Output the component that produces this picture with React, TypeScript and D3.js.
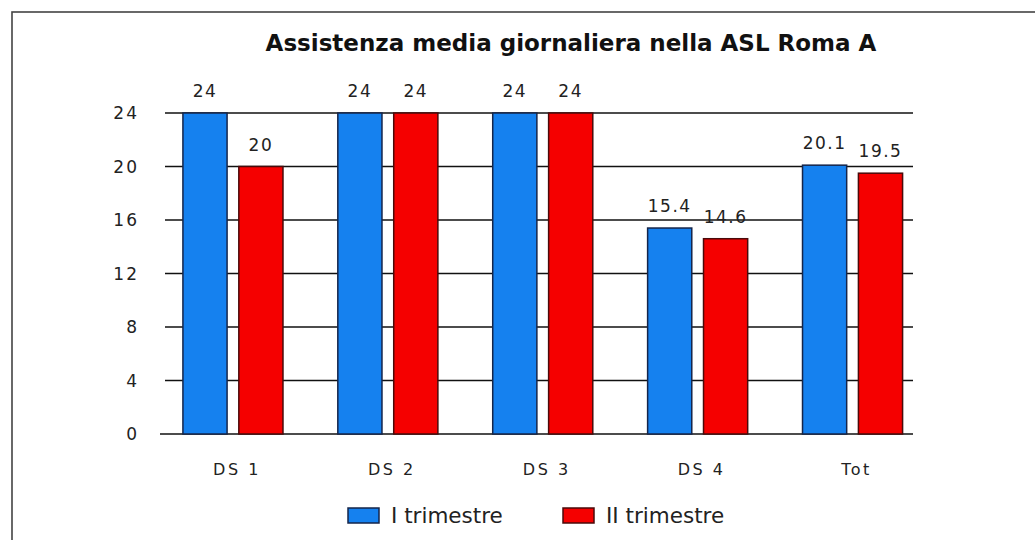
import React from "react";
import * as d3 from "d3";

const categories = ["DS 1", "DS 2", "DS 3", "DS 4", "Tot"];
const seriesNames = ["I trimestre", "II trimestre"];
const trim1 = [24, 24, 24, 15.4, 20.1];
const trim2 = [20, 24, 24, 14.6, 19.5];
const yTicks = [0, 4, 8, 12, 16, 20, 24];
const title = "Assistenza media giornaliera nella ASL Roma A";

const colors = ["#1581ef", "#f50000"];
const strokes = ["#15254a", "#4a0a0a"];

export default function App() {
  const W = 1035;
  const H = 540;
  const gridLeft = 162;
  const gridRight = 913;

  const x0 = d3
    .scaleBand<string>()
    .domain(categories)
    .range([155.5, 930])
    .paddingInner(0.354)
    .paddingOuter(0.177);
  const x1 = d3
    .scaleBand<string>()
    .domain(seriesNames)
    .range([0, x0.bandwidth()])
    .paddingInner(0.21);
  const y = d3.scaleLinear().domain([0, 24]).range([434, 113]);

  const series = [trim1, trim2];
  const font = "'DejaVu Sans', Verdana, sans-serif";
  const textColor = "#222";

  const fmt = (v: number) => (Number.isInteger(v) ? String(v) : v.toFixed(1));

  return (
    <svg
      width={W}
      height={H}
      style={{ position: "absolute", left: 0, top: 0, background: "#fff" }}
    >
      <rect x={0} y={0} width={W} height={H} fill="#fff" />
      <rect
        x={12}
        y={12}
        width={W + 20}
        height={H + 20}
        fill="#fff"
        stroke="#444"
        strokeWidth={1.6}
      />
      <text
        x={571}
        y={51}
        textAnchor="middle"
        fontFamily={font}
        fontWeight="bold"
        fontSize={23}
        fill="#111"
      >
        {title}
      </text>

      {/* grid lines and y ticks */}
      {yTicks.map((t) => (
        <g key={t}>
          <line
            x1={t === 0 ? 160 : gridLeft + 3}
            x2={gridRight}
            y1={y(t)}
            y2={y(t)}
            stroke="#111"
            strokeWidth={1.4}
          />
          <text
            x={139}
            y={y(t)}
            dy="0.36em"
            textAnchor="end"
            fontFamily={font}
            fontSize={17}
            letterSpacing={2}
            fill={textColor}
          >
            {t}
          </text>
        </g>
      ))}

      {/* bars */}
      {categories.map((c, i) => (
        <g key={c} transform={`translate(${x0(c)},0)`}>
          {series.map((s, k) => {
            const bx = x1(seriesNames[k])!;
            const bw = x1.bandwidth();
            return (
              <g key={k}>
                <rect
                  x={bx}
                  y={y(s[i])}
                  width={bw}
                  height={y(0) - y(s[i])}
                  fill={colors[k]}
                  stroke={strokes[k]}
                  strokeWidth={1.5}
                />
                <text
                  x={bx + bw / 2}
                  y={y(s[i]) - 16}
                  textAnchor="middle"
                  fontFamily={font}
                  fontSize={17}
                  letterSpacing={1.5}
                  fill={textColor}
                >
                  {fmt(s[i])}
                </text>
              </g>
            );
          })}
          <text
            x={x0.bandwidth() / 2 + 4}
            y={475}
            textAnchor="middle"
            fontFamily={font}
            fontSize={16}
            letterSpacing={2.5}
            fill={textColor}
          >
            {c}
          </text>
        </g>
      ))}

      {/* legend */}
      {seriesNames.map((n, k) => {
        const lx = k === 0 ? 348 : 563;
        return (
          <g key={n}>
            <rect
              x={lx}
              y={508}
              width={31}
              height={15}
              fill={colors[k]}
              stroke={strokes[k]}
              strokeWidth={1.5}
            />
            <text
              x={lx + 43}
              y={523}
              fontFamily={font}
              fontSize={21.5}
              fill={textColor}
            >
              {n}
            </text>
          </g>
        );
      })}
    </svg>
  );
}
